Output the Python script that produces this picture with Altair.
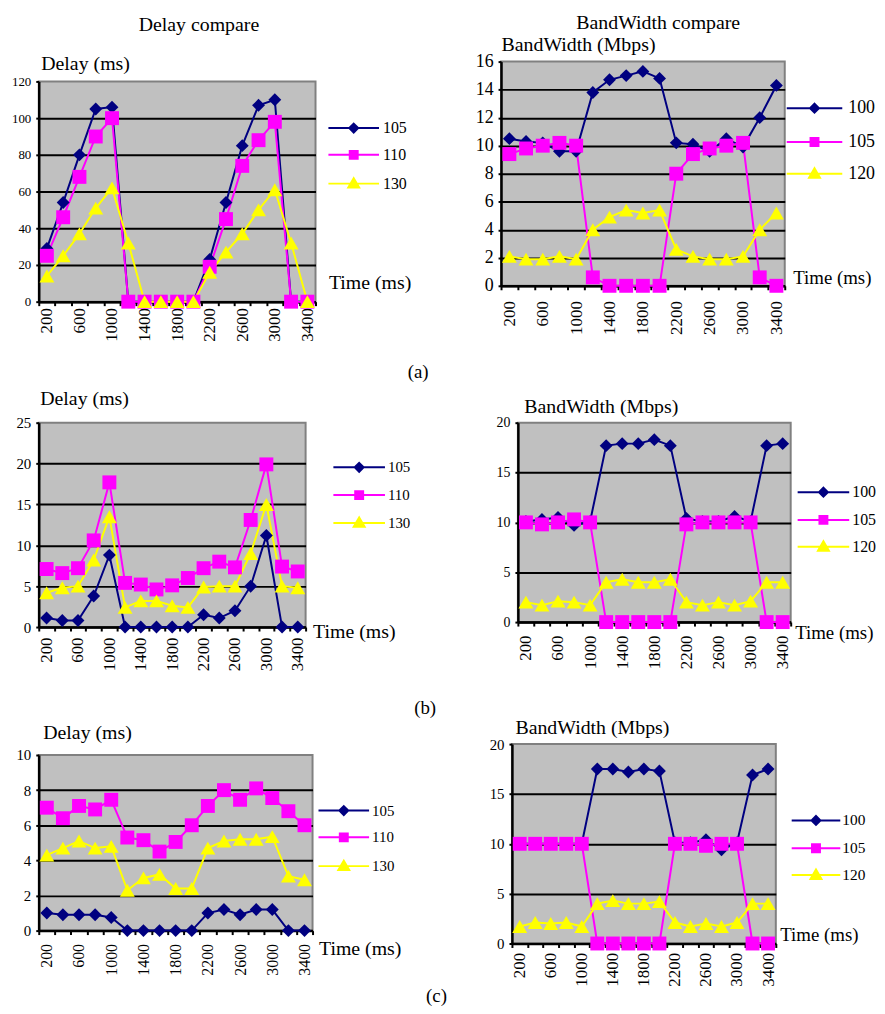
import altair as alt
import pandas as pd

FONT = "Liberation Serif, Times New Roman, serif"
COLORS = ["#000080", "#FF00FF", "#FFFF00"]
SHAPES = ["diamond", "square", "triangle-up"]
MSIZES = [169, 225, 289]

times = [200, 400, 600, 800, 1000, 1200, 1400, 1600, 1800, 2000,
         2200, 2400, 2600, 2800, 3000, 3200, 3400]

delay_names = ["105", "110", "130"]
bw_names = ["100", "105", "120"]

# (a)
a_delay_105 = [29, 54, 80, 105, 106, 0, 0, 0, 0, 0, 23, 54, 85, 107, 110, 0, 0]
a_delay_110 = [25, 46, 68, 90, 100, 0, 0, 0, 0, 0, 19, 45, 74, 88, 98, 0, 0]
a_delay_130 = [14, 25, 37, 51, 62, 32, 0, 0, 0, 0, 16, 27, 37, 50, 61, 32, 0]
a_bw_100 = [10.5, 10.3, 10.2, 9.6, 9.6, 13.8, 14.7, 15.0, 15.3, 14.8, 10.2, 10.1, 9.6, 10.5, 9.9, 12.0, 14.3]
a_bw_105 = [9.4, 9.8, 10.0, 10.2, 10.0, 0.6, 0, 0, 0, 0, 8.0, 9.4, 9.8, 10.0, 10.2, 0.6, 0]
a_bw_120 = [2.1, 1.9, 1.9, 2.1, 1.9, 4.0, 4.9, 5.4, 5.2, 5.4, 2.6, 2.1, 1.9, 1.9, 2.1, 4.0, 5.2]

# (b)
b_delay_105 = [1.1, 0.8, 0.8, 3.8, 8.8, 0, 0, 0, 0, 0, 1.5, 1.1, 2.0, 5.0, 11.2, 0, 0]
b_delay_110 = [7.1, 6.6, 7.2, 10.6, 17.7, 5.4, 5.2, 4.6, 5.1, 6.0, 7.2, 8.0, 7.3, 13.1, 19.9, 7.4, 6.8]
b_delay_130 = [4.2, 4.8, 5.0, 8.2, 13.5, 2.4, 3.2, 3.2, 2.6, 2.4, 4.9, 5.0, 5.0, 9.0, 15.0, 5.0, 4.8]
b_bw_100 = [10.1, 10.3, 10.5, 9.7, 10.1, 17.7, 17.9, 17.9, 18.3, 17.7, 10.4, 10.1, 10.1, 10.6, 10.1, 17.7, 17.9]
b_bw_105 = [10.0, 9.8, 10.0, 10.3, 10.0, 0, 0, 0, 0, 0, 9.8, 10.0, 10.0, 10.0, 10.0, 0, 0]
b_bw_120 = [2.0, 1.7, 2.1, 2.0, 1.7, 4.0, 4.3, 4.0, 4.0, 4.3, 2.0, 1.7, 2.0, 1.7, 2.1, 4.0, 4.0]

# (c)
c_delay_105 = [1.0, 0.9, 0.9, 0.9, 0.75, 0, 0, 0, 0, 0, 1.0, 1.2, 0.9, 1.2, 1.2, 0, 0]
c_delay_110 = [7.0, 6.4, 7.1, 6.9, 7.45, 5.3, 5.15, 4.5, 5.05, 6.0, 7.1, 8.0, 7.45, 8.1, 7.55, 6.8, 6.0]
c_delay_130 = [4.3, 4.7, 5.1, 4.7, 4.8, 2.3, 3.0, 3.2, 2.4, 2.4, 4.7, 5.1, 5.2, 5.2, 5.35, 3.1, 2.9]
c_bw_100 = [10.0, 10.0, 10.0, 10.0, 10.0, 17.5, 17.5, 17.2, 17.5, 17.3, 10.1, 10.1, 10.4, 9.4, 10.1, 16.9, 17.5]
c_bw_105 = [10.0, 10.0, 10.0, 10.0, 10.0, 0, 0, 0, 0, 0, 10.0, 10.0, 9.8, 10.0, 10.0, 0, 0]
c_bw_120 = [1.7, 2.1, 2.0, 2.1, 1.7, 4.0, 4.3, 4.0, 4.0, 4.2, 2.1, 1.7, 2.0, 1.7, 2.1, 4.0, 4.0]


def frame(names, series):
    rows = []
    for n, vals in zip(names, series):
        for t, v in zip(times, vals):
            rows.append({"t": str(t), "ti": t, "v": v, "s": n})
    return pd.DataFrame(rows)


def legend_paths(L):
    u = 2.0 / L

    def f(v):
        return f"{v * u:.4f}"
    line = "M-1,0L1,0"
    diamond = line + f"M0,{f(-4.5)}L{f(4.5)},0L0,{f(4.5)}L{f(-4.5)},0Z"
    square = line + f"M{f(-4)},{f(-4)}L{f(4)},{f(-4)}L{f(4)},{f(4)}L{f(-4)},{f(4)}Z"
    tri = line + f"M0,{f(-5.5)}L{f(5.5)},{f(4)}L{f(-5.5)},{f(4)}Z"
    return [diamond, square, tri]


def panel(df, names, ytitle, ymax, ystep, w, h, ytx, yty, xtx, xty, ylab, xlab, xpad,
          lx, lrows, L, lfs, lo, minext, xtfs=20):
    xenc = alt.X(
        "t:N", sort=[str(t) for t in times],
        scale=alt.Scale(type="band", paddingInner=0, paddingOuter=0),
        axis=alt.Axis(
            title="Time (ms)", titleX=xtx, titleY=xty, titleAlign="left",
            titleBaseline="middle", titleFont=FONT, titleFontSize=xtfs,
            titleFontWeight="normal", titleColor="black",
            labelAngle=270, labelFont=FONT, labelFontSize=xlab, labelColor="black",
            labelExpr="(toNumber(datum.value) - 200) % 400 == 0 ? datum.label : ''",
            labelPadding=xpad, tickBand="extent", tickSize=4, tickWidth=2,
            tickColor="black", domainColor="black", domainWidth=2.5, grid=False,
        ),
    )
    yenc = alt.Y(
        "v:Q", scale=alt.Scale(domain=[0, ymax], nice=False),
        axis=alt.Axis(
            values=list(range(0, ymax + 1, ystep)), title=ytitle, titleAngle=0,
            titleX=ytx, titleY=yty, titleAlign="left", titleBaseline="middle",
            titleFont=FONT, titleFontSize=20, titleFontWeight="normal", titleColor="black",
            labelFont=FONT, labelFontSize=ylab, labelColor="black", labelPadding=5,
            tickSize=3, tickWidth=2, tickColor="black",
            domainColor="black", domainWidth=2.5,
            grid=True, gridColor="black", gridWidth=2,
            gridOpacity={"condition": {"test": f"datum.value >= {ymax}", "value": 0}, "value": 1},
            minExtent=minext,
        ),
    )
    paths = legend_paths(L)
    layers = []
    for i, n in enumerate(names):
        leg = alt.Legend(
            orient="none", legendX=lx, legendY=lrows[i] - L / 2, title=None,
            symbolType=paths[i], symbolSize=L * L, symbolStrokeWidth=2,
            symbolFillColor=COLORS[i], symbolStrokeColor=COLORS[i],
            labelFont=FONT, labelFontSize=lfs, labelColor="black", labelOffset=lo,
            padding=0,
        )
        layers.append(
            alt.Chart(df[df["s"] == n]).mark_line(strokeWidth=2).encode(
                x=xenc, y=yenc,
                stroke=alt.Stroke("s:N", scale=alt.Scale(domain=[n], range=[COLORS[i]]), legend=leg),
                order=alt.Order("ti:Q"),
            )
        )
    points = alt.Chart(df).mark_point(filled=True, opacity=1, strokeWidth=0).encode(
        x=xenc, y=yenc,
        fill=alt.Fill("s:N", scale=alt.Scale(domain=names, range=COLORS), legend=None),
        shape=alt.Shape("s:N", scale=alt.Scale(domain=names, range=SHAPES), legend=None),
        size=alt.Size("s:N", scale=alt.Scale(domain=names, range=MSIZES), legend=None),
    )
    return alt.layer(*layers, points).resolve_scale(stroke="independent").resolve_legend(
        stroke="independent").properties(width=w, height=h)


def res(ch):
    return ch.resolve_scale(
        x="independent", y="independent", stroke="independent",
        fill="independent", shape="independent", size="independent",
    ).resolve_legend(stroke="independent")


def spacer(title=None):
    props = dict(width=1, height=1,
                 view=alt.ViewBackground(fill="transparent", stroke="transparent"))
    if title is not None:
        props["title"] = title
    return alt.Chart(pd.DataFrame({"z": [0]})).mark_point(opacity=0, size=0).properties(**props)


def ctitle(txt, dx, off, size=20):
    return alt.Title(txt, font=FONT, fontSize=size, fontWeight="normal", color="black",
                     anchor="middle", frame="group", dx=dx, offset=off)


def rtitle(txt, dx, off):
    return alt.Title(txt, orient="bottom", anchor="middle", dx=dx, offset=off,
                     font=FONT, fontSize=19, fontWeight="normal", color="black")


dfa1 = frame(delay_names, [a_delay_105, a_delay_110, a_delay_130])
dfa2 = frame(bw_names, [a_bw_100, a_bw_105, a_bw_120])
dfb1 = frame(delay_names, [b_delay_105, b_delay_110, b_delay_130])
dfb2 = frame(bw_names, [b_bw_100, b_bw_105, b_bw_120])
dfc1 = frame(delay_names, [c_delay_105, c_delay_110, c_delay_130])
dfc2 = frame(bw_names, [c_bw_100, c_bw_105, c_bw_120])

# panel(df, names, ytitle, ymax, ystep, w, h, ytx, yty, xtx, xty, ylab, xlab, xpad,
#       lx, lrows, L, lfs, lo, minext)
a1 = panel(dfa1, delay_names, "Delay (ms)", 120, 20, 279, 222, 2, -18, 292, -19, 13, 17, 2,
           291, [46, 73, 102], 51, 16, 3, 30)
a2 = panel(dfa2, bw_names, "BandWidth (Mbps)", 16, 2, 286, 226, 0, -17, 294, -8, 18, 17, 11,
           287, [46, 80, 112], 56, 18, 5, 27, xtfs=19)
b1 = panel(dfb1, delay_names, "Delay (ms)", 25, 5, 269, 206, 1, -24, 276, 5, 15, 17, 6,
           296, [44, 72, 100], 52, 15, 2, 30)
b2 = panel(dfb2, bw_names, "BandWidth (Mbps)", 20, 5, 275, 201, 6, -16, 279, 11, 14, 17, 9,
           281, [69, 97, 124], 52, 16, 2, 25, xtfs=19)
c1 = panel(dfc1, delay_names, "Delay (ms)", 10, 2, 276, 177, 4, -23, 282, 18, 15, 16, 9,
           281, [55, 82, 111], 51, 15, 2, 30)
c2 = panel(dfc2, bw_names, "BandWidth (Mbps)", 20, 5, 266, 201, 3, -17, 270, -9, 15, 17, 5,
           281, [76, 104, 131], 49, 15.5, 1, 25, xtfs=19)

rowA = res(alt.hconcat(
    res(alt.vconcat(spacer(ctitle("Delay compare", 161, -5)), a1, spacing=17)),
    res(alt.vconcat(spacer(ctitle("BandWidth compare", 158, -3)), a2, spacing=0)),
    spacing=61, title=rtitle("(a)", -24, 21)))
rowB = res(alt.hconcat(b1, b2, spacing=81))
rowC = res(alt.hconcat(
    res(alt.vconcat(spacer(ctitle("(b)", 389, -4, size=19)), c1, spacing=2)),
    res(alt.vconcat(spacer(), c2, spacing=0)),
    spacing=49, title=rtitle("(c)", -1, 0)))

chart = res(alt.vconcat(rowA, res(alt.vconcat(rowB, rowC, spacing=27)), spacing=6))
chart = chart.properties(padding=0, background="white").configure_view(
    fill="#C0C0C0", stroke="#808080", strokeWidth=2
)

chart.save("out.html", embed_options={"renderer": "svg", "actions": False})
